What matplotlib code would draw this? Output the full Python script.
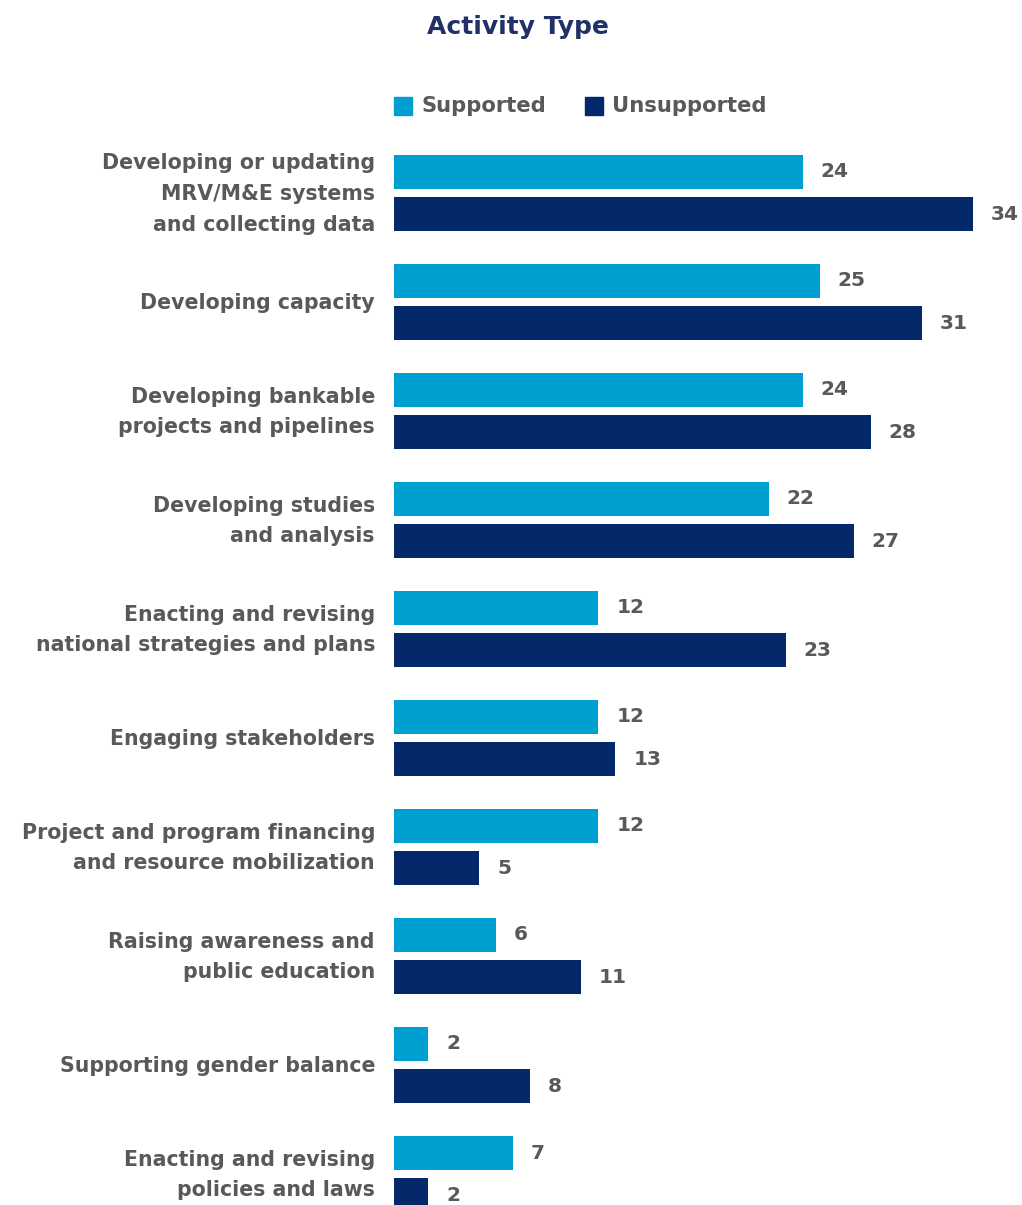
import matplotlib.pyplot as plt
import numpy as np
from matplotlib.patches import Rectangle
from matplotlib.transforms import ScaledTranslation

categories = [
    "Developing or updating\nMRV/M&E systems\nand collecting data",
    "Developing capacity",
    "Developing bankable\nprojects and pipelines",
    "Developing studies\nand analysis",
    "Enacting and revising\nnational strategies and plans",
    "Engaging stakeholders",
    "Project and program financing\nand resource mobilization",
    "Raising awareness and\npublic education",
    "Supporting gender balance",
    "Enacting and revising\npolicies and laws",
]
series_names = ["Supported", "Unsupported"]
supported = [24, 25, 24, 22, 12, 12, 12, 6, 2, 7]
unsupported = [34, 31, 28, 27, 23, 13, 5, 11, 8, 2]

c_sup = "#009fd1"
c_unsup = "#03296a"
c_text = "#595959"
c_title = "#1f3168"

plt.rcParams["font.family"] = "DejaVu Sans"
plt.rcParams["font.weight"] = "bold"

W, H = 1022, 1205
fig = plt.figure(figsize=(W / 100, H / 100), dpi=100)
ax = fig.add_axes([394 / W, 0, 613 / W, (H - 140) / H])

y = np.arange(len(categories))
off = 0.193
h = 0.312
ax.barh(y - off, supported, height=h, color=c_sup)
ax.barh(y + off, unsupported, height=h, color=c_unsup)

for yi, v in zip(y, supported):
    ax.text(v + 1.05, yi - off, str(v), va="center", ha="left",
            fontsize=14.5, color=c_text, fontweight="bold")
for yi, v in zip(y, unsupported):
    ax.text(v + 1.05, yi + off, str(v), va="center", ha="left",
            fontsize=14.5, color=c_text, fontweight="bold")

ax.set_xlim(0, 36)
ax.set_ylim(9.284, -0.486)
ax.set_xticks([])
ax.set_yticks([])
for s in ax.spines.values():
    s.set_visible(False)

# category labels, right-aligned just left of the bars
tr = ax.get_yaxis_transform() + ScaledTranslation(-0.19, -0.01, fig.dpi_scale_trans)
for yi, lab in zip(y, categories):
    ax.text(0, yi, lab, transform=tr, ha="right", va="center",
            fontsize=14.8, color=c_text, fontweight="bold",
            linespacing=1.66, clip_on=False)

fig.text(518 / W, 1 - 27 / H, "Activity Type", ha="center", va="center",
         fontsize=18, color=c_title, fontweight="bold")

# legend drawn by hand: square + label
for x0, name, col in [(394, series_names[0], c_sup),
                      (585, series_names[1], c_unsup)]:
    fig.patches.append(Rectangle((x0 / W, 1 - 115 / H), 18 / W, 18 / H,
                                 transform=fig.transFigure, color=col))
    fig.text((x0 + 27) / W, 1 - 106 / H, name, ha="left", va="center",
             fontsize=15.2, color=c_text, fontweight="bold")

fig.savefig("out.png", dpi=100)
